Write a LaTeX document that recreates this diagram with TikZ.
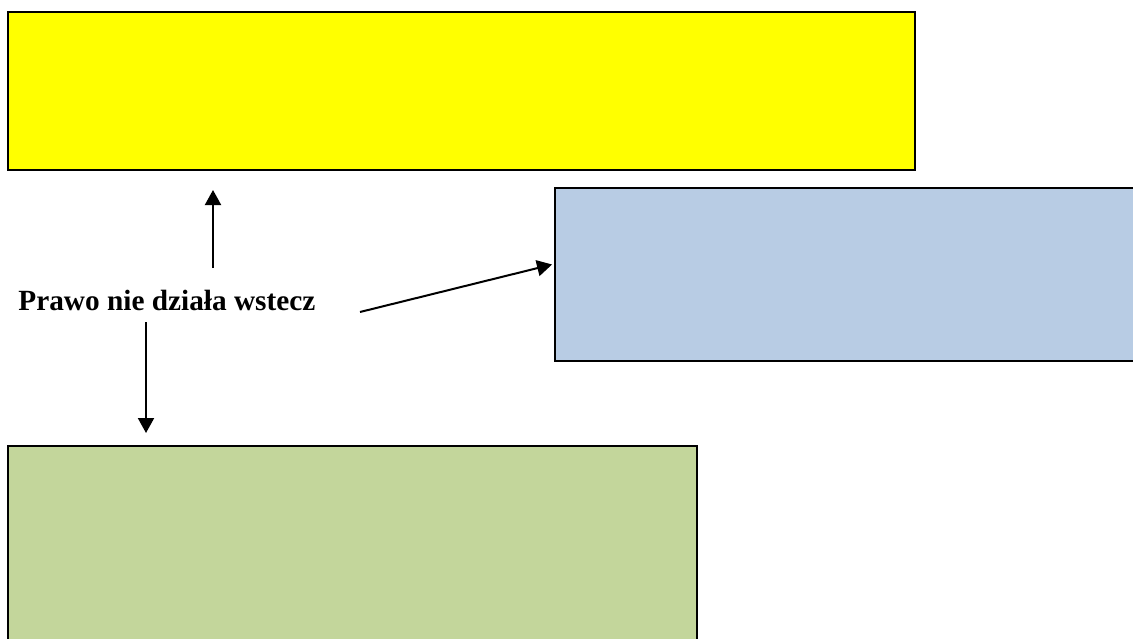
\documentclass[tikz,border=0pt]{standalone}
\usepackage{fontspec}
\setmainfont{Liberation Serif}
\usetikzlibrary{arrows.meta}
\definecolor{boxyellow}{HTML}{FFFF00}
\definecolor{boxblue}{HTML}{B8CCE4}
\definecolor{boxgreen}{HTML}{C3D69B}
\tikzset{box node/.style={rectangle,draw,line width=1pt,inner sep=0pt,anchor=north west},
  law node/.style={inner sep=0pt,anchor=base west,font=\fontsize{14.65pt}{17pt}\selectfont\bfseries},
  law arrow/.style={-{Triangle[length=7.5pt,width=8pt]},line width=1pt} }

\begin{document}
\begin{tikzpicture}[x=0.5pt,y=-0.5pt]
  \clip (0,0) rectangle (1133,638);
  \fill[white] (0,0) rectangle (1133,638);

  \node[box node,fill=boxyellow,minimum width=453.5pt,minimum height=79pt] (past) at (7,11) {};
  \node[box node,fill=boxblue,minimum width=320pt,minimum height=86.5pt] (now) at (554,187) {};
  \node[box node,fill=boxgreen,minimum width=344.5pt,minimum height=120pt] (future) at (7,445) {};

  \node[law node] (law) at (18,310) {Prawo nie działa wstecz};

  \coordinate (upfoot) at (213,268);
  \coordinate (downfoot) at (146,322);
  \coordinate (sidefoot) at (360,312);

  \path
    (upfoot) edge [law arrow,shorten >=9.5pt] (upfoot |- past.south)
    (downfoot) edge [law arrow,shorten >=6pt] (downfoot |- future.north)
    (sidefoot) edge [law arrow,shorten >=1pt] ([yshift=5.25pt]now.west)
    ;
\end{tikzpicture}
\end{document}
